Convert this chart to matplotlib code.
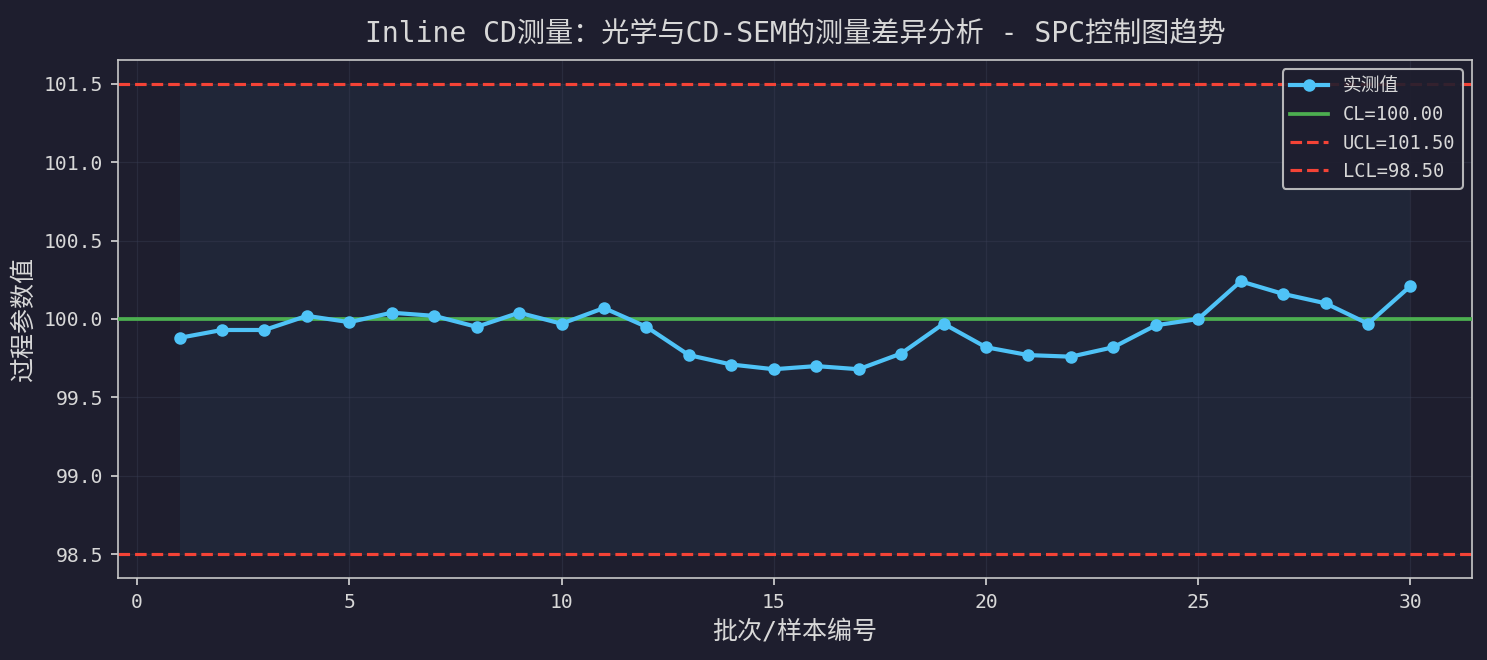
import numpy as np
import matplotlib.pyplot as plt
from matplotlib import font_manager

# =========================================================
# DATA
# =========================================================

batch = list(range(1, 31))
measured = [
    99.88, 99.93, 99.93, 100.02, 99.98, 100.04, 100.02, 99.95, 100.04, 99.97,
    100.07, 99.95, 99.77, 99.71, 99.68, 99.70, 99.68, 99.78, 99.97, 99.82,
    99.77, 99.76, 99.82, 99.96, 100.00, 100.24, 100.16, 100.10, 99.97, 100.21,
]
cl = 100.00
ucl = 101.50
lcl = 98.50

title = "Inline CD测量：光学与CD-SEM的测量差异分析 - SPC控制图趋势"

# =========================================================
# STYLE
# =========================================================

bg = "#1e1e2e"
fg = "#d8d8d8"

# prefer a CJK mono font (half-width latin like SimHei)
names = {f.name for f in font_manager.fontManager.ttflist}
if "Noto Sans Mono CJK SC" in names:
    plt.rcParams["font.family"] = ["Noto Sans Mono CJK SC", "DejaVu Sans"]
else:
    plt.rcParams["font.family"] = ["DejaVu Sans Mono", "Noto Sans CJK SC"]
plt.rcParams["axes.unicode_minus"] = False

fig, ax = plt.subplots(figsize=(1487 / 150, 660 / 150), dpi=150)
fig.patch.set_facecolor(bg)
ax.set_facecolor(bg)

# control band
ax.fill_between(batch, lcl, ucl, color="#4fc3f7", alpha=0.05, linewidth=0)

ax.plot(batch, measured, color="#4fc3f7", linewidth=2, marker="o",
        markersize=5, label="实测值", zorder=4)
ax.axhline(cl, color="#4caf50", linewidth=1.8, label=f"CL={cl:.2f}", zorder=3)
ax.axhline(ucl, color="#f44336", linewidth=1.5, linestyle="--",
           label=f"UCL={ucl:.2f}")
ax.axhline(lcl, color="#f44336", linewidth=1.5, linestyle="--",
           label=f"LCL={lcl:.2f}")

ax.set_title(title, color=fg, fontsize=13.5, pad=9)
ax.set_xlabel("批次/样本编号", color=fg, fontsize=12)
ax.set_ylabel("过程参数值", color=fg, fontsize=12)

ax.grid(True, color="#3a3f55", alpha=0.4, linewidth=0.6)
ax.tick_params(colors=fg, labelsize=9.5)
for s in ax.spines.values():
    s.set_color("#c8c8c8")

leg = ax.legend(loc="upper right", facecolor=bg, edgecolor="#c8c8c8",
                fontsize=9, framealpha=0.9)
for t in leg.get_texts():
    t.set_color(fg)

fig.subplots_adjust(left=118 / 1487, right=1472 / 1487,
                    top=1 - 60 / 660, bottom=1 - 578 / 660)
plt.savefig("out.png", dpi=150, facecolor=bg)
